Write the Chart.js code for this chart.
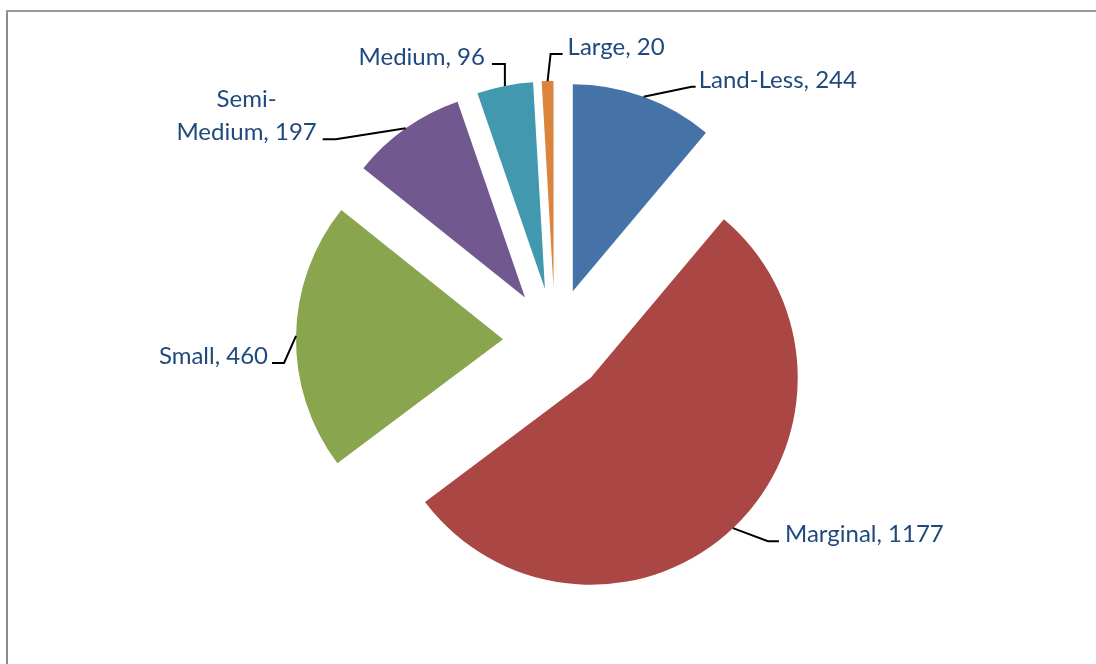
<!DOCTYPE html>
<html>
<head>
<meta charset="utf-8">
<title>Land holdings by category</title>
<script src="https://cdn.jsdelivr.net/npm/chart.js@4.4.1/dist/chart.umd.min.js"></script>
<style>
    html, body { margin: 0; padding: 0; background: #fff; }
    #wrap { position: relative; width: 1096px; height: 664px; }
</style>
</head>
<body>
<div id="wrap"><canvas id="pie" width="1096" height="664"></canvas></div>
<script>
// holdings per category
const categories = ['Land-Less', 'Marginal', 'Small', 'Semi-Medium', 'Medium', 'Large'];
const holdings = [244, 1177, 460, 197, 96, 20];
const sliceColors = ['#4572A7', '#AA4643', '#89A54E', '#71588F', '#4198AF', '#DB843D'];

// leader elbow offset from the arc midpoint, and which side the text hangs on
const labelLayout = [
    { dx: 48, dy: -10, side: 'right', tail: 4, gap: 3 },
    { dx: 35, dy: 13, side: 'right', tail: 11, gap: 6 },
    { dx: -12, dy: 27, side: 'left', tail: 12, gap: 4 },
    { dx: -70, dy: 11, side: 'left', tail: 13, gap: 6, wrap: true },
    { dx: 0, dy: -22, side: 'left', tail: 13, gap: 7 },
    { dx: 3, dy: -27, side: 'right', tail: 12, gap: 5 }
];

const EXPLODE = 52;
const LABEL_FONT = '24px Lato';
const LINE_H = 33;

// white page + the grey frame on the left and top
const framePlugin = {
    id: 'frame',
    beforeDraw(chart) {
        const ctx = chart.ctx;
        ctx.save();
        ctx.fillStyle = '#fff';
        ctx.fillRect(0, 0, chart.width, chart.height);
        ctx.fillStyle = '#8c8c8c';
        ctx.fillRect(6, 10, 2, chart.height - 10);
        ctx.fillStyle = '#999';
        ctx.fillRect(6, 10, chart.width - 6, 2);
        ctx.restore();
    }
};

// pull every slice straight out along its mid angle (plain translation, like excel)
const explodePlugin = {
    id: 'explode',
    afterUpdate(chart) {
        chart.getDatasetMeta(0).data.forEach(arc => {
            const mid = (arc.startAngle + arc.endAngle) / 2;
            arc.x += Math.cos(mid) * EXPLODE;
            arc.y += Math.sin(mid) * EXPLODE;
        });
    }
};

const labelPlugin = {
    id: 'sliceLabels',
    afterDatasetsDraw(chart) {
        const ctx = chart.ctx;
        const arcs = chart.getDatasetMeta(0).data;
        ctx.save();
        ctx.font = LABEL_FONT;
        ctx.lineWidth = 2;
        ctx.strokeStyle = '#000';
        ctx.textBaseline = 'alphabetic';
        ctx.textAlign = 'center';
        arcs.forEach((arc, i) => {
            const lay = labelLayout[i];
            const mid = (arc.startAngle + arc.endAngle) / 2;
            const ax = arc.x + Math.cos(mid) * arc.outerRadius;
            const ay = arc.y + Math.sin(mid) * arc.outerRadius;
            const ex = ax + lay.dx, ey = ay + lay.dy;
            const dir = lay.side === 'right' ? 1 : -1;
            const tx = ex + dir * lay.tail;
            ctx.beginPath();
            ctx.moveTo(ax, ay);
            ctx.lineTo(ex, ey);
            ctx.lineTo(tx, ey);
            ctx.stroke();

            const text = `${categories[i]}, ${holdings[i]}`;
            let lines = [text];
            if (lay.wrap) { const k = text.indexOf('-') + 1; lines = [text.slice(0, k), text.slice(k)]; }
            const w = Math.max(...lines.map(l => ctx.measureText(l).width));
            const left = dir > 0 ? tx + lay.gap : tx - lay.gap - w;
            ctx.fillStyle = '#1F497D';
            lines.forEach((l, j) => {
                const y = ey + 1 - (lines.length - 1 - j) * LINE_H;
                ctx.fillText(l, left + w / 2, y);
            });
        });
        ctx.restore();
    }
};

new Chart(document.getElementById('pie'), {
    type: 'pie',
    data: {
        labels: categories,
        datasets: [{ data: holdings, backgroundColor: sliceColors, borderWidth: 0, clip: false }]
    },
    options: {
        responsive: false,
        animation: false,
        events: [],
        radius: 207,
        layout: { padding: { left: 14, right: 0, top: 16, bottom: 0 } },
        plugins: { legend: { display: false }, tooltip: { enabled: false } }
    },
    plugins: [framePlugin, explodePlugin, labelPlugin]
});
</script>
</body>
</html>
